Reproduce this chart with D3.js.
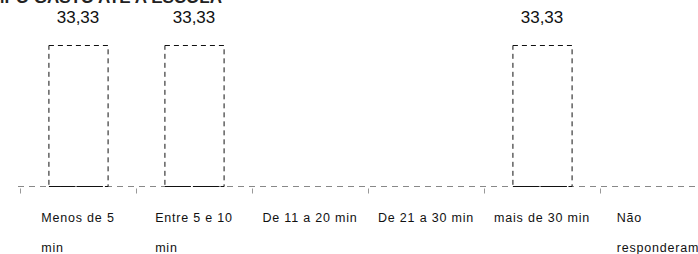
<!DOCTYPE html>
<html lang="pt">
<head>
<meta charset="utf-8">
<title>Tempo até a escola</title>
<script src="https://d3js.org/d3.v7.min.js"></script>
<style>
  body { margin: 0; background: #fff; }
  svg { display: block; font-family: Arial, "Liberation Sans", sans-serif; }
  .title { font-size: 17px; font-weight: bold; fill: #222; }
  .val { font-size: 17px; fill: #111; text-anchor: middle; }
  .cat { font-size: 12.5px; letter-spacing: 0.8px; fill: #111; }
</style>
</head>
<body>
<script>
var w = 698, h = 254;

// data
var categories = [
  ["Menos de 5", "min"],
  ["Entre 5 e 10", "min"],
  ["De 11 a 20 min"],
  ["De 21 a 30 min"],
  ["mais de 30 min"],
  ["Não", "responderam"]
];
var values = [33.33, 33.33, 0, 0, 33.33, 0];
var valueLabels = ["33,33", "33,33", "", "", "33,33", ""];

var svg = d3.select("body").append("svg")
  .attr("width", w)
  .attr("height", h);

var baseY = 186;

var x = d3.scaleBand()
  .domain(d3.range(categories.length))
  .range([20, 716])
  .paddingInner(0.49)
  .paddingOuter(0.245);

var band = (716 - 20) / categories.length;

var y = d3.scaleLinear()
  .domain([0, 35])
  .range([baseY, baseY - 148]);

// cut-off title at the very top
svg.append("text")
  .attr("class", "title")
  .attr("x", 222)
  .attr("y", 3)
  .attr("text-anchor", "end")
  .text("TEMPO GASTO ATÉ A ESCOLA");

// axis line + ticks
var axis = d3.axisBottom(d3.scaleLinear().domain([0, categories.length]).range([20, 716]))
  .ticks(categories.length)
  .tickSize(6)
  .tickFormat("");

var ax = svg.append("g")
  .attr("transform", "translate(0," + (baseY + 0.5) + ")")
  .call(axis);
ax.select(".domain")
  .attr("d", "M18,0H698")
  .attr("stroke", "#888")
  .attr("stroke-dasharray", "6,5");
ax.selectAll(".tick line")
  .attr("stroke", "#999")
  .attr("y1", 2)
  .attr("y2", 7);

// bars (dashed outline, no fill)
var bars = svg.selectAll(".bar")
  .data(values.map(function(v, i) { return {v: v, i: i}; }).filter(function(d) { return d.v > 0; }))
  .enter().append("g")
  .attr("class", "bar");

bars.append("rect")
  .attr("x", function(d) { return x(d.i) + 0.5; })
  .attr("y", function(d) { return Math.round(y(d.v)) + 0.5; })
  .attr("width", x.bandwidth())
  .attr("height", function(d) { return baseY - Math.round(y(d.v)); })
  .attr("fill", "none")
  .attr("stroke", "#111")
  .attr("stroke-width", 1)
  .attr("stroke-dasharray", "5,4");

bars.append("line")
  .attr("x1", function(d) { return x(d.i) + 0.5; })
  .attr("x2", function(d) { return x(d.i) + x.bandwidth() + 0.5; })
  .attr("y1", baseY + 0.5)
  .attr("y2", baseY + 0.5)
  .attr("stroke", "#111")
  .attr("stroke-dasharray", "12,2");

// value labels
svg.selectAll(".val")
  .data(values)
  .enter().append("text")
  .attr("class", "val")
  .attr("x", function(d, i) { return x(i) + x.bandwidth() / 2; })
  .attr("y", 23)
  .text(function(d, i) { return valueLabels[i]; });

// category labels: block centred, lines left aligned
var cats = svg.selectAll(".catg")
  .data(categories)
  .enter().append("g")
  .attr("class", "catg");

cats.each(function(lines, i) {
  var g = d3.select(this);
  var texts = g.selectAll("text")
    .data(lines)
    .enter().append("text")
    .attr("class", "cat")
    .attr("y", function(d, j) { return 222 + j * 30; })
    .text(function(d) { return d; });
  var maxW = d3.max(texts.nodes(), function(n) { return n.getComputedTextLength(); });
  var cx = 20 + band * (i + 0.5);
  texts.attr("x", cx - maxW / 2);
});
</script>
</body>
</html>
